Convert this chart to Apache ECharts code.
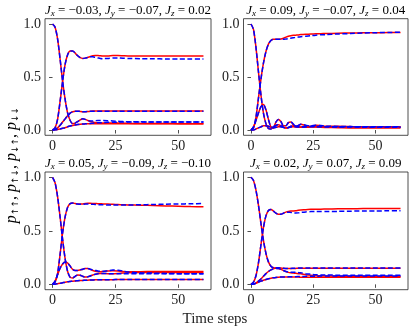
<!DOCTYPE html>
<html>
<head>
<meta charset="utf-8">
<script src="https://cdn.jsdelivr.net/npm/echarts@6/dist/echarts.min.js"></script>
<style>
html,body{margin:0;padding:0;background:#fff}
#chart{width:415px;height:330px}
</style>
</head>
<body>
<div id="chart"></div>
<script>
const steps = [0,1,2,3,4,5,6,7,8,9,10,11,12,13,14,15,16,17,18,19,20,22,24,26,28,30,35,40,45,50,55,60]
const xTicks = [0, 25, 50]
const yTicks = [0, 0.5, 1]
const titles = [
  ['−0.03', '−0.07', '0.02'],
  ['0.09', '−0.07', '0.04'],
  ['0.05', '−0.09', '−0.10'],
  ['0.02', '0.07', '0.09']
]

// panel 1
const p1UURed = [1,0.97,0.86,0.67,0.46,0.29,0.16,0.09,0.06,0.065,0.08,0.095,0.105,0.1,0.09,0.08,0.075,0.07,0.068,0.067,0.067,0.066,0.065,0.065,0.064,0.063,0.062,0.062,0.061,0.06,0.06,0.06]
const p1UUBlue = [1,0.97,0.86,0.67,0.46,0.29,0.16,0.09,0.06,0.065,0.08,0.095,0.105,0.1,0.09,0.085,0.085,0.088,0.09,0.09,0.09,0.088,0.085,0.082,0.08,0.078,0.077,0.076,0.076,0.075,0.075,0.075]
const p1DDRed = [0,0.02,0.1,0.27,0.46,0.62,0.71,0.745,0.745,0.725,0.7,0.682,0.675,0.678,0.685,0.693,0.7,0.703,0.703,0.7,0.698,0.698,0.702,0.702,0.7,0.698,0.698,0.698,0.698,0.698,0.698,0.698]
const p1DDBlue = [0,0.02,0.1,0.27,0.46,0.62,0.71,0.745,0.745,0.725,0.7,0.682,0.675,0.678,0.685,0.69,0.69,0.685,0.68,0.675,0.673,0.675,0.68,0.68,0.678,0.675,0.673,0.673,0.67,0.67,0.67,0.67]
const p1UDRed = [0,0.005,0.02,0.045,0.075,0.105,0.135,0.16,0.172,0.178,0.178,0.175,0.172,0.172,0.174,0.177,0.179,0.18,0.18,0.18,0.18,0.18,0.18,0.18,0.18,0.18,0.18,0.18,0.18,0.18,0.18,0.18]
const p1UDBlue = [0,0.005,0.02,0.045,0.075,0.105,0.135,0.16,0.172,0.178,0.178,0.175,0.172,0.172,0.174,0.177,0.178,0.178,0.178,0.178,0.178,0.178,0.178,0.178,0.178,0.178,0.178,0.178,0.178,0.178,0.178,0.178]
const p1DURed = [0,0.002,0.005,0.01,0.016,0.022,0.03,0.037,0.043,0.048,0.052,0.055,0.057,0.058,0.059,0.06,0.06,0.06,0.06,0.06,0.06,0.06,0.06,0.06,0.06,0.06,0.06,0.06,0.06,0.06,0.06,0.06]
const p1DUBlue = [0,0.002,0.005,0.01,0.016,0.022,0.03,0.037,0.043,0.048,0.052,0.055,0.057,0.058,0.059,0.062,0.064,0.066,0.068,0.069,0.07,0.072,0.073,0.074,0.075,0.075,0.075,0.075,0.075,0.075,0.075,0.075]

// panel 2
const p2UURed = [1,0.95,0.78,0.55,0.33,0.16,0.06,0.015,0.01,0.025,0.045,0.05,0.04,0.025,0.02,0.025,0.035,0.04,0.038,0.032,0.028,0.028,0.03,0.028,0.025,0.024,0.022,0.02,0.02,0.02,0.02,0.02]
const p2UUBlue = [1,0.95,0.78,0.55,0.33,0.16,0.06,0.015,0.01,0.025,0.045,0.05,0.04,0.025,0.02,0.025,0.035,0.04,0.038,0.034,0.03,0.032,0.034,0.033,0.032,0.03,0.029,0.028,0.027,0.027,0.026,0.026]
const p2DDRed = [0,0.02,0.12,0.3,0.48,0.63,0.74,0.81,0.845,0.855,0.855,0.855,0.858,0.865,0.875,0.885,0.89,0.893,0.895,0.897,0.9,0.903,0.905,0.907,0.909,0.91,0.913,0.915,0.917,0.918,0.919,0.92]
const p2DDBlue = [0,0.02,0.12,0.3,0.48,0.63,0.74,0.81,0.845,0.855,0.855,0.855,0.855,0.855,0.858,0.862,0.866,0.87,0.873,0.877,0.88,0.885,0.89,0.895,0.898,0.9,0.906,0.91,0.915,0.918,0.92,0.922]
const p2UDRed = [0,0.03,0.09,0.16,0.22,0.24,0.19,0.1,0.03,0.025,0.075,0.1,0.08,0.04,0.04,0.07,0.075,0.05,0.03,0.04,0.055,0.04,0.035,0.045,0.04,0.035,0.035,0.032,0.03,0.03,0.03,0.03]
const p2UDBlue = [0,0.03,0.09,0.16,0.22,0.24,0.19,0.1,0.03,0.025,0.075,0.1,0.08,0.04,0.04,0.07,0.078,0.055,0.035,0.042,0.055,0.045,0.038,0.045,0.042,0.036,0.034,0.032,0.03,0.03,0.03,0.03]
const p2DURed = [0,0,0.01,0.02,0.03,0.04,0.04,0.035,0.025,0.02,0.025,0.03,0.03,0.025,0.02,0.022,0.028,0.03,0.028,0.025,0.025,0.026,0.028,0.03,0.03,0.03,0.03,0.03,0.03,0.03,0.03,0.03]
const p2DUBlue = [0,0,0.01,0.02,0.03,0.04,0.04,0.035,0.025,0.02,0.025,0.03,0.03,0.025,0.02,0.022,0.028,0.032,0.03,0.028,0.028,0.03,0.032,0.032,0.03,0.03,0.03,0.03,0.028,0.026,0.026,0.026]

// panel 3
const p3UURed = [1,0.95,0.82,0.63,0.42,0.24,0.12,0.065,0.06,0.075,0.087,0.085,0.075,0.068,0.07,0.078,0.088,0.095,0.1,0.102,0.102,0.1,0.1,0.102,0.105,0.108,0.11,0.11,0.11,0.11,0.11,0.11]
const p3UUBlue = [1,0.95,0.82,0.63,0.42,0.24,0.12,0.065,0.06,0.075,0.087,0.085,0.075,0.068,0.07,0.078,0.088,0.095,0.1,0.102,0.102,0.1,0.1,0.1,0.1,0.1,0.1,0.1,0.1,0.1,0.1,0.1]
const p3DDRed = [0,0.02,0.1,0.28,0.48,0.63,0.72,0.755,0.76,0.755,0.75,0.75,0.752,0.755,0.757,0.757,0.756,0.755,0.754,0.753,0.752,0.75,0.748,0.746,0.744,0.742,0.74,0.737,0.733,0.73,0.727,0.725]
const p3DDBlue = [0,0.02,0.1,0.28,0.48,0.63,0.72,0.755,0.76,0.755,0.75,0.748,0.748,0.75,0.75,0.75,0.748,0.746,0.745,0.744,0.743,0.742,0.742,0.742,0.742,0.742,0.744,0.746,0.749,0.751,0.753,0.755]
const p3UDRed = [0,0.03,0.09,0.15,0.19,0.21,0.2,0.17,0.14,0.13,0.13,0.135,0.142,0.147,0.147,0.14,0.13,0.122,0.118,0.118,0.12,0.125,0.128,0.125,0.12,0.118,0.118,0.12,0.12,0.12,0.12,0.12]
const p3UDBlue = [0,0.03,0.09,0.15,0.19,0.21,0.2,0.17,0.14,0.13,0.13,0.135,0.142,0.147,0.147,0.142,0.135,0.13,0.125,0.122,0.122,0.128,0.133,0.132,0.125,0.115,0.108,0.105,0.102,0.1,0.1,0.1]
const p3DURed = [0,0.002,0.006,0.01,0.015,0.02,0.024,0.027,0.03,0.032,0.034,0.036,0.037,0.038,0.039,0.04,0.041,0.042,0.042,0.043,0.043,0.044,0.044,0.045,0.045,0.045,0.045,0.045,0.045,0.045,0.045,0.045]
const p3DUBlue = [0,0.002,0.006,0.01,0.015,0.02,0.024,0.027,0.03,0.032,0.034,0.036,0.037,0.038,0.039,0.04,0.041,0.042,0.042,0.043,0.043,0.044,0.044,0.045,0.045,0.045,0.045,0.045,0.045,0.045,0.045,0.045]

// panel 4
const p4UURed = [1,0.97,0.88,0.74,0.57,0.41,0.29,0.21,0.17,0.155,0.15,0.147,0.14,0.13,0.12,0.112,0.108,0.105,0.103,0.1,0.098,0.09,0.085,0.082,0.08,0.078,0.076,0.075,0.075,0.074,0.074,0.073]
const p4UUBlue = [1,0.97,0.88,0.74,0.57,0.41,0.29,0.21,0.17,0.155,0.15,0.147,0.14,0.13,0.12,0.115,0.113,0.112,0.112,0.11,0.108,0.1,0.095,0.09,0.088,0.087,0.086,0.086,0.085,0.085,0.085,0.085]
const p4DDRed = [0,0.02,0.08,0.2,0.37,0.53,0.64,0.69,0.7,0.685,0.665,0.655,0.655,0.665,0.675,0.682,0.685,0.686,0.688,0.692,0.695,0.698,0.702,0.703,0.703,0.704,0.706,0.707,0.708,0.709,0.71,0.71]
const p4DDBlue = [0,0.02,0.08,0.2,0.37,0.53,0.64,0.69,0.7,0.685,0.665,0.655,0.655,0.665,0.672,0.675,0.672,0.668,0.667,0.668,0.672,0.677,0.68,0.68,0.68,0.681,0.682,0.684,0.685,0.686,0.687,0.688]
const p4UDRed = [0,0.003,0.012,0.03,0.05,0.075,0.1,0.12,0.135,0.145,0.152,0.155,0.153,0.15,0.148,0.147,0.147,0.148,0.149,0.15,0.15,0.15,0.15,0.15,0.15,0.15,0.15,0.15,0.15,0.15,0.15,0.15]
const p4UDBlue = [0,0.003,0.012,0.03,0.05,0.075,0.1,0.12,0.135,0.145,0.152,0.155,0.153,0.15,0.148,0.148,0.149,0.15,0.151,0.152,0.152,0.152,0.152,0.152,0.152,0.152,0.152,0.152,0.152,0.152,0.152,0.152]
const p4DURed = [0,0.003,0.01,0.02,0.03,0.038,0.045,0.052,0.058,0.062,0.065,0.067,0.068,0.068,0.068,0.068,0.068,0.068,0.068,0.068,0.067,0.067,0.067,0.066,0.066,0.066,0.066,0.066,0.066,0.066,0.066,0.066]
const p4DUBlue = [0,0.003,0.01,0.02,0.03,0.038,0.045,0.052,0.058,0.062,0.065,0.067,0.068,0.068,0.068,0.07,0.071,0.072,0.072,0.073,0.074,0.075,0.076,0.076,0.077,0.077,0.077,0.078,0.078,0.078,0.078,0.078]

const panels = [
  {red:[p1UURed,p1DDRed,p1UDRed,p1DURed], blue:[p1UUBlue,p1DDBlue,p1UDBlue,p1DUBlue]},
  {red:[p2UURed,p2DDRed,p2UDRed,p2DURed], blue:[p2UUBlue,p2DDBlue,p2UDBlue,p2DUBlue]},
  {red:[p3UURed,p3DDRed,p3UDRed,p3DURed], blue:[p3UUBlue,p3DDBlue,p3UDBlue,p3DUBlue]},
  {red:[p4UURed,p4DDRed,p4UDRed,p4DURed], blue:[p4UUBlue,p4DDBlue,p4UDBlue,p4DUBlue]}
]

const font = 'Liberation Serif'
const grids = [
  {left:45, top:18.7, width:166, height:116.6},
  {left:243.5, top:18.7, width:164.5, height:116.6},
  {left:45, top:172, width:166, height:117.7},
  {left:243.5, top:172, width:164.5, height:117.7}
]

const chart = echarts.init(document.getElementById('chart'))

const xAxis = grids.map((g, i) => ({
  type:'value', gridIndex:i, min:-3, max:63,
  splitLine:{show:false},
  axisLine:{show:false},
  axisTick:{show:true, inside:false, length:3.5, customValues:xTicks, lineStyle:{color:'#222', width:0.8}},
  axisLabel:{customValues:xTicks, color:'#222', fontFamily:font, fontSize:14, margin:4}
}))
const yAxis = grids.map((g, i) => ({
  type:'value', gridIndex:i, min:-0.05, max:1.05,
  splitLine:{show:false},
  axisLine:{show:false},
  axisTick:{show:true, inside:false, length:3.5, customValues:yTicks, lineStyle:{color:'#222', width:0.8}},
  axisLabel:{customValues:yTicks, color:'#222', fontFamily:font, fontSize:14, margin:4,
    formatter:v => v.toFixed(1)}
}))

const series = []
panels.forEach((p, i) => {
  p.red.forEach(arr => {
    series.push({
      type:'line', xAxisIndex:i, yAxisIndex:i, showSymbol:false, smooth:0.25, silent:true,
      data:steps.map((t, k) => [t, arr[k]]),
      lineStyle:{color:'#ff0000', width:1.5}
    })
  })
  p.blue.forEach(arr => {
    series.push({
      type:'line', xAxisIndex:i, yAxisIndex:i, showSymbol:false, smooth:0.25, silent:true,
      data:steps.map((t, k) => [t, arr[k]]),
      lineStyle:{color:'#0000ff', width:1.5, type:[5, 2.5]}
    })
  })
})

const subRich = {
  j:{fontFamily:font, fontStyle:'italic', fontSize:13, color:'#222'},
  s:{fontFamily:font, fontStyle:'italic', fontSize:9, color:'#222', padding:[6,0,0,0]},
  n:{fontFamily:font, fontSize:13, color:'#222'}
}
const graphic = titles.map((t, i) => {
  const g = grids[i]
  return {
    type:'text', x:g.left + g.width / 2, y:g.top - 8,
    style:{
      text:`{j|J}{s|x}{n| = ${t[0]}, }{j|J}{s|y}{n| = ${t[1]}, }{j|J}{s|z}{n| = ${t[2]}}`,
      rich:subRich, align:'center', verticalAlign:'middle'
    }
  }
})
graphic.push({
  type:'text', x:12, y:165, rotation:Math.PI / 2,
  style:{
    text:'{p|p}{a|↑↑}{c|, }{p|p}{a|↑↓}{c|, }{p|p}{a|↓↑}{c|, }{p|p}{a|↓↓}',
    rich:{
      p:{fontFamily:font, fontStyle:'italic', fontSize:16, color:'#222'},
      a:{fontFamily:'DejaVu Sans', fontSize:9, color:'#222', padding:[7,0,0,0]},
      c:{fontFamily:font, fontSize:16, color:'#222'}
    },
    align:'center', verticalAlign:'middle'
  }
})
graphic.push({
  type:'text', x:215, y:319,
  style:{text:'Time steps', font:'15px "Liberation Serif"', fill:'#222', align:'center', verticalAlign:'middle'}
})

chart.setOption({
  animation:false,
  grid:grids.map(g => Object.assign({show:true, borderColor:'#222', borderWidth:0.8, backgroundColor:'transparent'}, g)),
  xAxis,
  yAxis,
  series,
  graphic
})
</script>
</body>
</html>
